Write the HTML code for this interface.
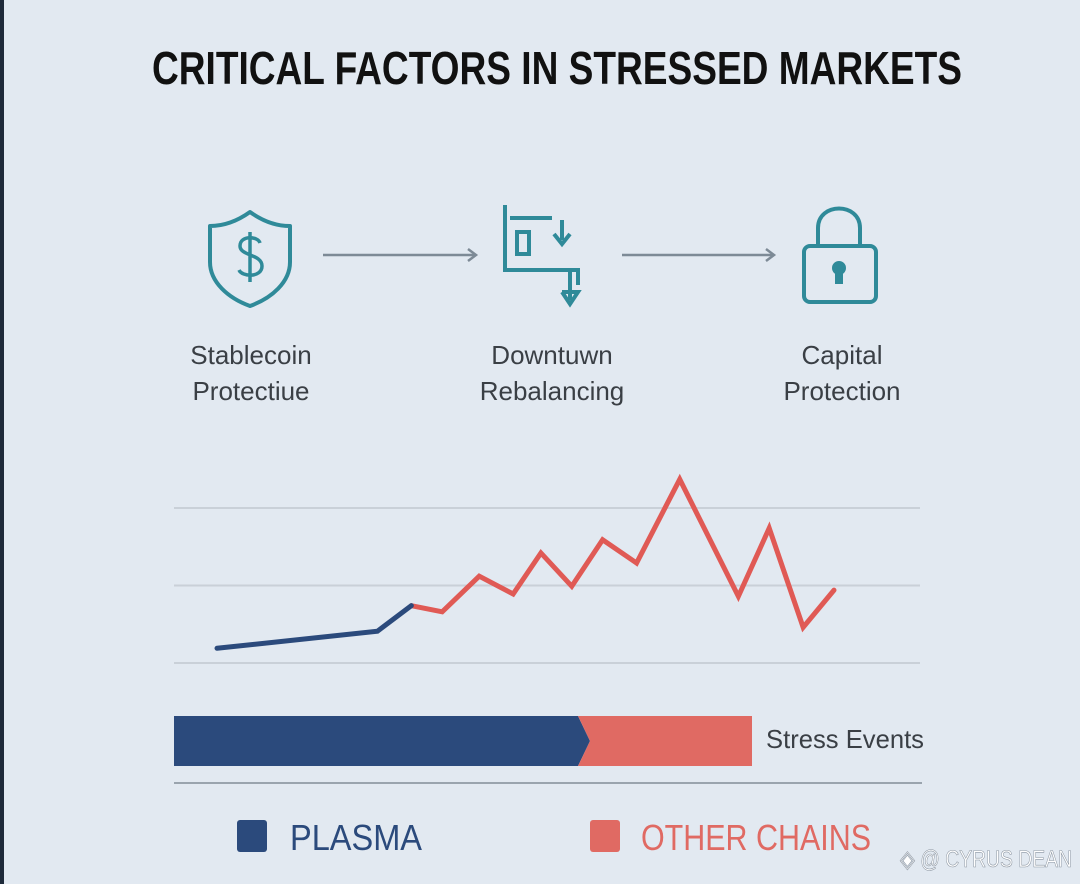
<!DOCTYPE html>
<html><head><meta charset="utf-8"><style>
html,body{margin:0;padding:0;background:#e2e9f1;}
svg{display:block;font-family:"Liberation Sans",sans-serif;}
</style></head><body>
<svg id="chart" width="1080" height="884" viewBox="0 0 1080 884">
<rect x="0" y="0" width="1080" height="884" fill="#e2e9f1"/>
<rect x="0" y="0" width="4" height="884" fill="#1e2a3a"/>
<text x="152" y="84" font-size="46" font-weight="bold" fill="#111" textLength="810" lengthAdjust="spacingAndGlyphs">CRITICAL FACTORS IN STRESSED MARKETS</text>

<g fill="none" stroke="#2f8a99" stroke-width="4" stroke-linejoin="round">
<path d="M250 212 C236 222 222 226 210 226 L210 262 C210 282 228 298 250 306 C272 298 290 282 290 262 L290 226 C278 226 264 222 250 212 Z"/>
<path d="M260 243 C258 236 240 235 240 246 C240 256 262 254 262 266 C262 278 242 277 239 270 M250 232 L250 282" stroke-width="3.5"/>
</g>
<g stroke="#7d8a96" stroke-width="2.5" fill="none"><line x1="323" y1="255" x2="476" y2="255"/><path d="M468 249 L476 255 L468 261"/></g>
<g fill="none" stroke="#2f8a99" stroke-width="4">
<path d="M505 205 L505 270 L578 270 L578 285"/>
<path d="M510 218 L552 218"/>
<rect x="517" y="232" width="12" height="22"/>
<path d="M562 220 L562 240 M554 234 L562 244 L570 234"/>
<path d="M570 272 L570 300 M562 292 L578 292 L570 304 L562 292"/>
</g>
<g stroke="#7d8a96" stroke-width="2.5" fill="none"><line x1="622" y1="255" x2="774" y2="255"/><path d="M766 249 L774 255 L766 261"/></g>
<g fill="none" stroke="#2f8a99" stroke-width="4">
<path d="M818 246 L818 228 C818 202 860 202 860 228 L860 246"/>
<rect x="804" y="246" width="72" height="56" rx="6"/>
<circle cx="839" cy="268" r="5" fill="#2f8a99"/><rect x="837" y="268" width="4" height="14" fill="#2f8a99"/>
</g>
<g font-size="26" fill="#3a3f45" text-anchor="middle">
<text x="251" y="364">Stablecoin</text>
<text x="251" y="400">Protectiue</text>
<text x="552" y="364">Downtuwn</text>
<text x="552" y="400">Rebalancing</text>
<text x="842" y="364">Capital</text>
<text x="842" y="400">Protection</text>
</g>
<g id="plot"></g>

<path d="M174 716 L578 716 L590 741 L578 766 L174 766 Z" fill="#2b4a7c"/>
<path d="M578 716 L752 716 L752 766 L578 766 L590 741 Z" fill="#e06a63"/>
<text x="766" y="748" font-size="26" fill="#3a3f45" textLength="158" lengthAdjust="spacingAndGlyphs">Stress Events</text>
<line x1="174" y1="783" x2="922" y2="783" stroke="#9aa4ae" stroke-width="2"/>
<rect x="237" y="820" width="30" height="32" rx="3" fill="#2b4a7c"/>
<text x="290" y="850" font-size="36" fill="#2b4a7c" textLength="132" lengthAdjust="spacingAndGlyphs">PLASMA</text>
<rect x="590" y="820" width="30" height="32" rx="3" fill="#e06a63"/>
<text x="641" y="850" font-size="36" fill="#e06a63" textLength="230" lengthAdjust="spacingAndGlyphs">OTHER CHAINS</text>
<text x="1072" y="867" font-size="24" fill="#ffffff" text-anchor="end" stroke="#8a94a0" stroke-width="0.6" textLength="172" lengthAdjust="spacingAndGlyphs">◈ @ CYRUS DEAN</text>
</svg>
<script>
const gridValues = [0, 1, 2];
const plasmaT = [0, 5.2, 6.3];
const plasmaV = [0.19, 0.41, 0.74];
const otherT = [6.3, 7.3, 8.5, 9.6, 10.5, 11.5, 12.5, 13.6, 15, 16.9, 17.9, 19, 20];
const otherV = [0.74, 0.66, 1.12, 0.89, 1.42, 0.99, 1.59, 1.29, 2.37, 0.86, 1.74, 0.46, 0.94];

const xS = t => 217 + t * 30.85;
const yS = v => 663 - v * 77.5;
const NS = 'http://www.w3.org/2000/svg';
const plot = document.getElementById('plot');

gridValues.forEach(v => {
  const l = document.createElementNS(NS, 'line');
  l.setAttribute('x1', 174); l.setAttribute('x2', 920);
  l.setAttribute('y1', yS(v)); l.setAttribute('y2', yS(v));
  l.setAttribute('stroke', '#c9d0d8'); l.setAttribute('stroke-width', 2);
  
  
  plot.appendChild(l);
});
function line(ts, vs, color, name) {
  const p = document.createElementNS(NS, 'polyline');
  p.setAttribute('points', ts.map((t, i) => xS(t) + ',' + yS(vs[i])).join(' '));
  p.setAttribute('fill', 'none'); p.setAttribute('stroke', color);
  p.setAttribute('stroke-width', 5); p.setAttribute('stroke-linejoin', 'miter');
  p.setAttribute('stroke-linecap', 'round');
  
  
  plot.appendChild(p);
}
line(otherT, otherV, '#e05a55', 'line-other-chains');
line(plasmaT, plasmaV, '#2b4a7c', 'line-plasma');
</script>
</body></html>
